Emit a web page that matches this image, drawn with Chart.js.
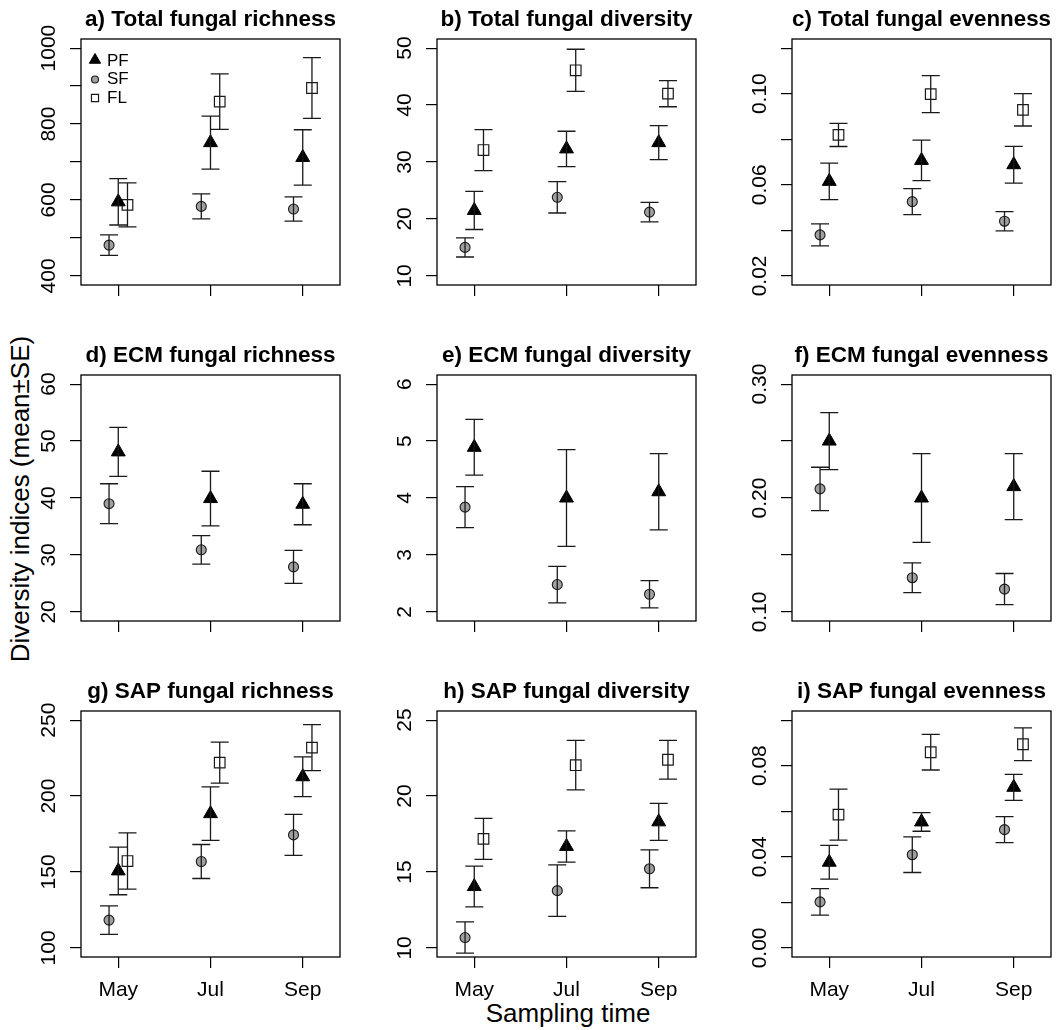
<!DOCTYPE html>
<html>
<head>
<meta charset="utf-8">
<script src="https://cdn.jsdelivr.net/npm/chart.js@4.4.1/dist/chart.umd.min.js"></script>
<style>
  body { margin: 0; background: #fff; }
  #page { position: relative; width: 1058px; height: 1030px; overflow: hidden; font-family: "Liberation Sans", Arial, sans-serif; }
  .panel { position: absolute; }
  .outer-label { position: absolute; font-size: 26px; line-height: 1; white-space: nowrap; color: #000; }
</style>
</head>
<body>
<div id="page">
  <div class="outer-label" style="left:20px; top:499px; transform:translate(-50%,-50%) rotate(-90deg);">Diversity indices (mean±SE)</div>
  <div class="outer-label" style="left:568px; top:1013px; transform:translate(-50%,-50%);">Sampling time</div>
</div>
<script>
const months = ['May', 'Jul', 'Sep'];
const groups = ['PF', 'SF', 'FL'];

const titles = [
    'a) Total fungal richness', 'b) Total fungal diversity', 'c) Total fungal evenness',
    'd) ECM fungal richness', 'e) ECM fungal diversity', 'f) ECM fungal evenness',
    'g) SAP fungal richness', 'h) SAP fungal diversity', 'i) SAP fungal evenness'
];

// rows: PF, SF, FL (no FL for ECM panels)
const meanA = [[595, 751, 712], [481, 583, 576], [587, 859, 895]];
const seA   = [[61, 70, 73], [27, 33, 32], [58, 73, 80]];
const meanB = [[21.5, 32.3, 33.4], [15.0, 23.8, 21.2], [32.1, 46.1, 42.0]];
const seB   = [[3.35, 3.1, 3.0], [1.68, 2.76, 1.7], [3.6, 3.7, 2.3]];
const meanC = [[0.0615, 0.0707, 0.0688], [0.038, 0.0526, 0.044], [0.0819, 0.0998, 0.0929]];
const seC   = [[0.008, 0.0089, 0.0081], [0.0048, 0.0057, 0.0042], [0.0051, 0.0081, 0.0071]];
const meanD = [[48.1, 39.9, 38.9], [39.0, 30.9, 27.9]];
const seD   = [[4.3, 4.8, 3.6], [3.5, 2.5, 2.9]];
const meanE = [[4.89, 4.0, 4.11], [3.84, 2.48, 2.31]];
const seE   = [[0.49, 0.85, 0.67], [0.36, 0.32, 0.24]];
const meanF = [[0.250, 0.200, 0.210], [0.208, 0.130, 0.120]];
const seF   = [[0.025, 0.039, 0.029], [0.019, 0.013, 0.0137]];
const meanG = [[150.7, 188.4, 212.7], [118.3, 156.9, 174.4], [157.2, 222.0, 231.9]];
const seG   = [[15.7, 17.6, 13.1], [9.4, 11.2, 13.5], [18.5, 13.5, 15.1]];
const meanH = [[14.04, 16.68, 18.3], [10.68, 13.77, 15.21], [17.18, 22.03, 22.39]];
const seH   = [[1.34, 1.03, 1.22], [1.03, 1.7, 1.25], [1.35, 1.63, 1.27]];
const meanI = [[0.0376, 0.0553, 0.0705], [0.0202, 0.0409, 0.0519], [0.0585, 0.0859, 0.0894]];
const seI   = [[0.0074, 0.0041, 0.0057], [0.0058, 0.0078, 0.0057], [0.0112, 0.0078, 0.0072]];

// y limits, tick positions and tick labels ('' = tick without label)
const yLimA = [400, 1000], yTicksA = [400, 500, 600, 700, 800, 900, 1000], yLabelsA = ['400', '', '600', '', '800', '', '1000'];
const yLimB = [10, 50], yTicksB = [10, 20, 30, 40, 50], yLabelsB = ['10', '20', '30', '40', '50'];
const yLimC = [0.02, 0.12], yTicksC = [0.02, 0.04, 0.06, 0.08, 0.10, 0.12], yLabelsC = ['0.02', '', '0.06', '', '0.10', ''];
const yLimD = [20, 60], yTicksD = [20, 30, 40, 50, 60], yLabelsD = ['20', '30', '40', '50', '60'];
const yLimE = [2, 6], yTicksE = [2, 3, 4, 5, 6], yLabelsE = ['2', '3', '4', '5', '6'];
const yLimF = [0.1, 0.3], yTicksF = [0.10, 0.15, 0.20, 0.25, 0.30], yLabelsF = ['0.10', '', '0.20', '', '0.30'];
const yLimG = [100, 250], yTicksG = [100, 150, 200, 250], yLabelsG = ['100', '150', '200', '250'];
const yLimH = [10, 25], yTicksH = [10, 15, 20, 25], yLabelsH = ['10', '15', '20', '25'];
const yLimI = [0, 0.1], yTicksI = [0, 0.02, 0.04, 0.06, 0.08, 0.10], yLabelsI = ['0.00', '', '0.04', '', '0.08', ''];

const xLim = [0.7, 3.3];

const panels = [
    {mean: meanA, se: seA, ylim: yLimA, ticks: yTicksA, labels: yLabelsA},
    {mean: meanB, se: seB, ylim: yLimB, ticks: yTicksB, labels: yLabelsB},
    {mean: meanC, se: seC, ylim: yLimC, ticks: yTicksC, labels: yLabelsC},
    {mean: meanD, se: seD, ylim: yLimD, ticks: yTicksD, labels: yLabelsD},
    {mean: meanE, se: seE, ylim: yLimE, ticks: yTicksE, labels: yLabelsE},
    {mean: meanF, se: seF, ylim: yLimF, ticks: yTicksF, labels: yLabelsF},
    {mean: meanG, se: seG, ylim: yLimG, ticks: yTicksG, labels: yLabelsG},
    {mean: meanH, se: seH, ylim: yLimH, ticks: yTicksH, labels: yLabelsH},
    {mean: meanI, se: seI, ylim: yLimI, ticks: yTicksI, labels: yLabelsI}
];

const groupStyle = {
    PF: {pointStyle: 'triangle', radius: 8, legendRadius: 6.5, fill: '#000', stroke: '#000', width: 1, dx: 0},
    SF: {pointStyle: 'circle', radius: 5, legendRadius: 3.5, fill: '#a0a0a0', stroke: '#1a1a1a', width: 1.1, dx: -0.1},
    FL: {pointStyle: 'rect', radius: 7.5, legendRadius: 5, fill: '#fff', stroke: '#1a1a1a', width: 1.2, dx: 0.1}
};

const FONT = '"Liberation Sans", Arial, sans-serif';
const colLeft = [0, 356, 711];
const rowTop = [0, 336, 672];
const BOX_L = 81, BOX_T = 39, BOX_W = 265, BOX_H = 246, PAD_R = 3;
const TITLE_SIZE = 22.5, TITLE_GAP = 5.4;

Chart.defaults.font.family = FONT;
Chart.defaults.color = '#000';

// R-style extension of the axis range by 4%
function extend(lim) {
    const d = (lim[1] - lim[0]) * 0.04;
    return [lim[0] - d, lim[1] + d];
}

const errorBars = {
    id: 'errorBars',
    afterDatasetsDraw(chart) {
        const {ctx, scales: {y}} = chart;
        ctx.save();
        ctx.strokeStyle = '#1a1a1a';
        ctx.lineWidth = 1.3;
        chart.data.datasets.forEach((ds, i) => {
            chart.getDatasetMeta(i).data.forEach((pt, j) => {
                const m = ds.data[j].y, e = ds.se[j];
                const top = y.getPixelForValue(m + e);
                const bot = y.getPixelForValue(m - e);
                ctx.beginPath();
                ctx.moveTo(pt.x, top); ctx.lineTo(pt.x, bot);
                ctx.moveTo(pt.x - 9, top); ctx.lineTo(pt.x + 9, top);
                ctx.moveTo(pt.x - 9, bot); ctx.lineTo(pt.x + 9, bot);
                ctx.stroke();
            });
        });
        ctx.restore();
    }
};

const frame = {
    id: 'frame',
    afterDraw(chart) {
        const {ctx, chartArea: a} = chart;
        ctx.save();
        ctx.strokeStyle = '#000';
        ctx.lineWidth = 1.3;
        ctx.strokeRect(a.left, a.top, a.right - a.left, a.bottom - a.top);
        ctx.restore();
    }
};

// y tick labels parallel to the axis, like R's default
const rotatedYLabels = {
    id: 'rotatedYLabels',
    afterDraw(chart, args, opts) {
        const {ctx, chartArea, scales: {y}} = chart;
        ctx.save();
        ctx.font = '21px ' + FONT;
        ctx.fillStyle = '#000';
        ctx.textAlign = 'center';
        ctx.textBaseline = 'alphabetic';
        y.ticks.forEach((t, i) => {
            const text = opts.labels[i];
            if (!text) return;
            ctx.save();
            ctx.translate(chartArea.left - 26, y.getPixelForValue(t.value));
            ctx.rotate(-Math.PI / 2);
            ctx.fillText(text, 0, 0);
            ctx.restore();
        });
        ctx.restore();
    }
};

function drawMarker(ctx, style, radius, x, y) {
    ctx.fillStyle = style.fill;
    ctx.strokeStyle = style.stroke;
    ctx.lineWidth = style.width;
    if (Chart.helpers && Chart.helpers.drawPoint) {
        Chart.helpers.drawPoint(ctx, {pointStyle: style.pointStyle, radius: radius, rotation: 0, borderWidth: style.width}, x, y);
        return;
    }
    ctx.beginPath();
    if (style.pointStyle === 'circle') {
        ctx.arc(x, y, radius, 0, Math.PI * 2);
    } else if (style.pointStyle === 'rect') {
        const s = radius * Math.SQRT1_2;
        ctx.rect(x - s, y - s, 2 * s, 2 * s);
    } else {
        ctx.moveTo(x, y - radius);
        ctx.lineTo(x + radius * 0.866, y + radius / 2);
        ctx.lineTo(x - radius * 0.866, y + radius / 2);
        ctx.closePath();
    }
    ctx.fill();
    ctx.stroke();
}

const insetLegend = {
    id: 'insetLegend',
    afterDraw(chart, args, opts) {
        if (!opts.display) return;
        const {ctx, chartArea: a} = chart;
        ctx.save();
        ctx.font = '17px ' + FONT;
        ctx.textAlign = 'left';
        ctx.textBaseline = 'middle';
        chart.data.datasets.forEach((ds, i) => {
            const style = groupStyle[ds.label];
            const cy = a.top + 22 + i * 18.5;
            drawMarker(ctx, style, style.legendRadius, a.left + 14, cy - (ds.label === 'PF' ? 1 : 0));
            ctx.fillStyle = '#000';
            ctx.fillText(ds.label, a.left + 26, cy);
        });
        ctx.restore();
    }
};

const page = document.getElementById('page');

function buildChart(p, k) {
    const col = k % 3, row = Math.floor(k / 3);
    const H = row === 2 ? 358 : 336;
    const W = BOX_L + BOX_W + PAD_R;

    const holder = document.createElement('div');
    holder.className = 'panel';
    holder.style.left = colLeft[col] + 'px';
    holder.style.top = rowTop[row] + 'px';
    const canvas = document.createElement('canvas');
    canvas.width = W;
    canvas.height = H;
    holder.appendChild(canvas);
    page.appendChild(holder);

    const datasets = p.mean.map((vals, g) => {
        const st = groupStyle[groups[g]];
        return {
            label: groups[g],
            data: vals.map((v, j) => ({x: j + 1 + st.dx, y: v})),
            se: p.se[g],
            showLine: false,
            pointStyle: st.pointStyle,
            pointRadius: st.radius,
            pointBackgroundColor: st.fill,
            pointBorderColor: st.stroke,
            pointBorderWidth: st.width,
            backgroundColor: st.fill,
            borderColor: st.stroke,
            borderWidth: st.width
        };
    });

    const [xMin, xMax] = extend(xLim);
    const [yMin, yMax] = extend(p.ylim);
    const tickGrid = {drawOnChartArea: false, drawTicks: true, tickLength: 11, color: '#000', lineWidth: 1.2};

    return new Chart(canvas, {
        type: 'scatter',
        data: {datasets: datasets},
        options: {
            responsive: false,
            animation: false,
            events: [],
            layout: {
                padding: {top: BOX_T - (TITLE_SIZE * 1.2 + TITLE_GAP), right: PAD_R, left: 0, bottom: 0}
            },
            plugins: {
                legend: {display: false},
                tooltip: {enabled: false},
                title: {
                    display: true,
                    text: titles[k],
                    fullSize: false,
                    font: {size: TITLE_SIZE, weight: 'bold'},
                    padding: {top: 0, bottom: TITLE_GAP},
                    color: '#000'
                },
                rotatedYLabels: {labels: p.labels},
                insetLegend: {display: k === 0}
            },
            scales: {
                x: {
                    type: 'linear',
                    min: xMin,
                    max: xMax,
                    bounds: 'data',
                    afterBuildTicks: s => { s.ticks = months.map((m, i) => ({value: i + 1})); },
                    afterFit: s => { s.height = H - BOX_T - BOX_H; },
                    grid: tickGrid,
                    border: {display: false},
                    ticks: {
                        padding: 10,
                        color: '#000',
                        font: {size: 21},
                        maxRotation: 0,
                        autoSkip: false,
                        callback: (v, i) => row === 2 ? months[i] : ''
                    }
                },
                y: {
                    type: 'linear',
                    min: yMin,
                    max: yMax,
                    bounds: 'data',
                    afterBuildTicks: s => { s.ticks = p.ticks.map(v => ({value: v})); },
                    afterFit: s => { s.width = BOX_L; },
                    grid: tickGrid,
                    border: {display: false},
                    ticks: {display: false}
                }
            }
        },
        plugins: [errorBars, frame, rotatedYLabels, insetLegend]
    });
}

panels.forEach((p, k) => buildChart(p, k));
</script>
</body>
</html>
